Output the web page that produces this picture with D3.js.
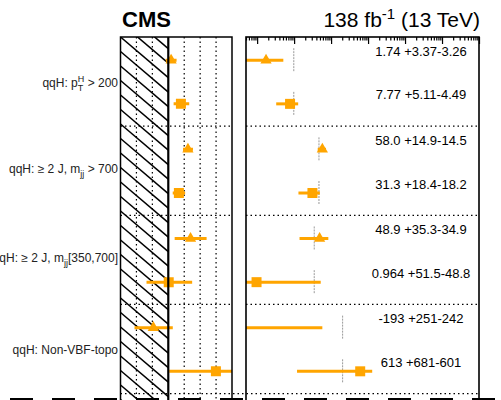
<!DOCTYPE html>
<html>
<head>
<meta charset="utf-8">
<script src="https://cdn.jsdelivr.net/npm/d3@7"></script>
<style>
  body { margin: 0; background: #fff; }
  text { font-family: "Liberation Sans", Arial, sans-serif; white-space: pre; }
</style>
</head>
<body>
<svg id="chart"></svg>
<script>
// group labels (one per pair of rows), ROOT-like markup for sub/superscripts
const groups = [
  "qqH: p_{T}^{H} > 200",
  "qqH: ≥ 2 J, m_{jj} > 700",
  "qqH: ≥ 2 J, m_{jj}[350,700]",
  "qqH: Non-VBF-topo"
];
// measured cross sections (fb) and errors, two rows per group
const values  = [1.74, 7.77, 58.0, 31.3, 48.9, 0.964, -193, 613];
const errUp   = [3.37, 5.11, 14.9, 18.4, 35.3, 51.5, 251, 681];
const errDown = [3.26, 4.49, 14.5, 18.2, 34.9, 48.8, 242, 601];
const shapes  = ["triangle", "square", "triangle", "square", "triangle", "square", "triangle", "square"];
// SM prediction per group
const smPred  = [9.8, 47, 35, 205];
// left panel ticks (ratio to SM)
const ratioTicks = [-2, -1, 0, 1, 2, 3];

const W = 501, H = 400;
const orange = "#ffa500";
const rowOffset = [0.26, 0.75];

const svg = d3.select("#chart").attr("width", W).attr("height", H);

const y = d3.scaleLinear().domain([0, 4]).range([37, 393.6]);
const xL = d3.scaleLinear().domain([-3, 4]).range([120.5, 232]);
const xR = d3.scaleLog().domain([0.5, 1e6]).range([246, 479]);

const f = d3.formatLocale({ decimal: ".", thousands: ",", grouping: [3], currency: ["", ""], minus: "-" }).format(".3r");

const rows = values.map((v, i) => {
  const g = Math.floor(i / 2);
  return {
    v, up: errUp[i], down: errDown[i], shape: shapes[i], sm: smPred[g],
    yPos: y(g + rowOffset[i % 2]),
    label: `${f(v)} +${f(errUp[i])}-${f(errDown[i])}`
  };
});

const defs = svg.append("defs");
defs.append("clipPath").attr("id", "clipL").append("rect")
  .attr("x", xL(-3)).attr("y", y(0)).attr("width", xL(4) - xL(-3)).attr("height", 400);
defs.append("clipPath").attr("id", "clipR").append("rect")
  .attr("x", xR.range()[0]).attr("y", y(0)).attr("width", xR.range()[1] - xR.range()[0]).attr("height", 400);
defs.append("clipPath").attr("id", "clipHatch").append("rect")
  .attr("x", xL(-3)).attr("y", y(0)).attr("width", xL(0) - xL(-3)).attr("height", 400);

// ---------- left panel: ratio to SM ----------
const left = svg.append("g");

// hatched unphysical region (ratio < 0)
const hatch = left.append("g").attr("clip-path", "url(#clipHatch)");
const hx0 = xL(-3), hx1 = xL(0), slope = 0.85, step = 14.5;
hatch.selectAll("line").data(d3.range(-6, 32)).join("line")
  .attr("x1", hx0).attr("y1", j => y(0) + j * step)
  .attr("x2", hx1).attr("y2", j => y(0) + j * step + slope * (hx1 - hx0))
  .attr("stroke", "#000").attr("stroke-width", 1.5);

// dotted grid
left.selectAll(".vgrid").data(ratioTicks.filter(t => t !== 0)).join("line")
  .attr("class", "vgrid")
  .attr("x1", d => xL(d)).attr("x2", d => xL(d))
  .attr("y1", y(0)).attr("y2", H + 10)
  .attr("stroke", "#000").attr("stroke-width", 1.2).attr("stroke-dasharray", "1.5,3");

left.selectAll(".hgrid").data([1, 2, 3]).join("line")
  .attr("class", "hgrid")
  .attr("x1", xL(-3)).attr("x2", xL(4))
  .attr("y1", d => y(d)).attr("y2", d => y(d))
  .attr("stroke", "#000").attr("stroke-width", 1.2).attr("stroke-dasharray", "1.5,3");

const leftData = left.append("g").attr("clip-path", "url(#clipL)");
leftData.selectAll(".ebar").data(rows).join("line")
  .attr("class", "ebar")
  .attr("x1", d => xL((d.v - d.down) / d.sm))
  .attr("x2", d => xL((d.v + d.up) / d.sm))
  .attr("y1", d => d.yPos).attr("y2", d => d.yPos)
  .attr("stroke", orange).attr("stroke-width", 3);

const sym = d => d3.symbol(d.shape === "triangle" ? d3.symbolTriangle : d3.symbolSquare,
                          d.shape === "triangle" ? 55 : 100)();

leftData.selectAll(".mark").data(rows).join("path")
  .attr("class", "mark")
  .attr("transform", d => `translate(${xL(d.v / d.sm)},${d.yPos})`)
  .attr("d", sym)
  .attr("fill", orange);

// zero line and frame
left.append("line")
  .attr("x1", xL(0)).attr("x2", xL(0)).attr("y1", y(0)).attr("y2", H + 10)
  .attr("stroke", "#000").attr("stroke-width", 2.2);
left.append("rect")
  .attr("x", xL(-3)).attr("y", y(0))
  .attr("width", xL(4) - xL(-3)).attr("height", 420)
  .attr("fill", "none").attr("stroke", "#000").attr("stroke-width", 1.5);

// ---------- right panel: cross section, log scale ----------
const right = svg.append("g");

right.selectAll(".hgrid").data([1, 2, 3]).join("line")
  .attr("class", "hgrid")
  .attr("x1", xR.range()[0]).attr("x2", xR.range()[1])
  .attr("y1", d => y(d)).attr("y2", d => y(d))
  .attr("stroke", "#000").attr("stroke-width", 1.2).attr("stroke-dasharray", "1.5,3");

// separator under last group spans both panels
svg.append("line")
  .attr("x1", xL(-3)).attr("x2", xR.range()[1])
  .attr("y1", y(4)).attr("y2", y(4))
  .attr("stroke", "#000").attr("stroke-width", 1.2).attr("stroke-dasharray", "1.5,3");

const rightData = right.append("g").attr("clip-path", "url(#clipR)");

// SM prediction markers
rightData.selectAll(".sm").data(rows).join("line")
  .attr("class", "sm")
  .attr("x1", d => xR(d.sm)).attr("x2", d => xR(d.sm))
  .attr("y1", d => d.yPos - 12).attr("y2", d => d.yPos + 12)
  .attr("stroke", "#999").attr("stroke-width", 1).attr("stroke-dasharray", "2,1");

const lo = xR.domain()[0];
rightData.selectAll(".ebar").data(rows).join("line")
  .attr("class", "ebar")
  .attr("x1", d => xR(Math.max(lo, d.v - d.down)))
  .attr("x2", d => xR(Math.max(lo, d.v + d.up)))
  .attr("y1", d => d.yPos).attr("y2", d => d.yPos)
  .attr("stroke", orange).attr("stroke-width", 3);

rightData.selectAll(".mark").data(rows.filter(d => d.v > 0)).join("path")
  .attr("class", "mark")
  .attr("transform", d => `translate(${xR(d.v)},${d.yPos})`)
  .attr("d", sym)
  .attr("fill", orange);

right.selectAll(".vlabel").data(rows).join("text")
  .attr("class", "vlabel")
  .attr("x", 421).attr("y", d => d.yPos - 4.5)
  .attr("text-anchor", "middle")
  .attr("font-size", 13)
  .text(d => d.label);

// log ticks along the top, pointing inwards
const decades = d3.range(0, 7).map(e => Math.pow(10, e));
const minors = [];
d3.range(-1, 6).forEach(e => d3.range(2, 10).forEach(m => {
  const v = m * Math.pow(10, e);
  if (v >= lo && v <= 1e6) minors.push(v);
}));

right.append("g")
  .attr("transform", `translate(0,${y(0)})`)
  .call(d3.axisBottom(xR).tickValues(minors).tickSize(3.5).tickFormat(""))
  .call(g => g.select(".domain").remove())
  .call(g => g.selectAll("line").attr("stroke-width", 1.2));
right.append("g")
  .attr("transform", `translate(0,${y(0)})`)
  .call(d3.axisBottom(xR).tickValues(decades).tickSize(7).tickFormat(""))
  .call(g => g.select(".domain").remove())
  .call(g => g.selectAll("line").attr("stroke-width", 1.2));

right.append("rect")
  .attr("x", xR.range()[0]).attr("y", y(0))
  .attr("width", xR.range()[1] - xR.range()[0]).attr("height", 420)
  .attr("fill", "none").attr("stroke", "#000").attr("stroke-width", 1.6);

// ---------- group labels ----------
function addLabel(text, str) {
  const parts = str.split(/(_\{[^}]*\}|\^\{[^}]*\})/).filter(s => s.length);
  let shift = 0, prev = null, subLen = 0;
  parts.forEach(p => {
    if (p.startsWith("_{")) {
      const t = text.append("tspan").attr("font-size", 9).attr("dy", 4 - shift).text(p.slice(2, -1));
      subLen = t.node().getComputedTextLength();
      shift = 4; prev = "sub";
    } else if (p.startsWith("^{")) {
      const t = text.append("tspan").attr("font-size", 9).attr("dy", -5 - shift).text(p.slice(2, -1));
      if (prev === "sub") t.attr("dx", -subLen);
      shift = -5; prev = "sup";
    } else {
      text.append("tspan").attr("dy", -shift).text(p);
      shift = 0; prev = "txt";
    }
  });
}

groups.forEach((g, i) => {
  const subOnly = g.includes("_{") && !g.includes("^{");
  const t = svg.append("text")
    .attr("x", 118)
    .attr("y", y(i + 0.5) + (subOnly ? 2 : 5))
    .attr("text-anchor", "end")
    .attr("font-size", 12)
    .attr("fill", "#222");
  addLabel(t, g);
});

// ---------- titles ----------
svg.append("text")
  .attr("x", 122).attr("y", 27)
  .attr("font-size", 22).attr("font-weight", "bold")
  .text("CMS");

const lumi = svg.append("text")
  .attr("x", 480).attr("y", 27)
  .attr("text-anchor", "end")
  .attr("font-size", 21);
lumi.append("tspan").text("138 fb");
lumi.append("tspan").attr("font-size", 15).attr("dy", -8).text("-1");
lumi.append("tspan").attr("dy", 8).text(" (13 TeV)");

// thick dashed line along the bottom edge (next panel boundary)
svg.append("line")
  .attr("x1", 10).attr("x2", W).attr("y1", 400).attr("y2", 400)
  .attr("stroke", "#000").attr("stroke-width", 4).attr("stroke-dasharray", "23,19");
</script>
</body>
</html>
